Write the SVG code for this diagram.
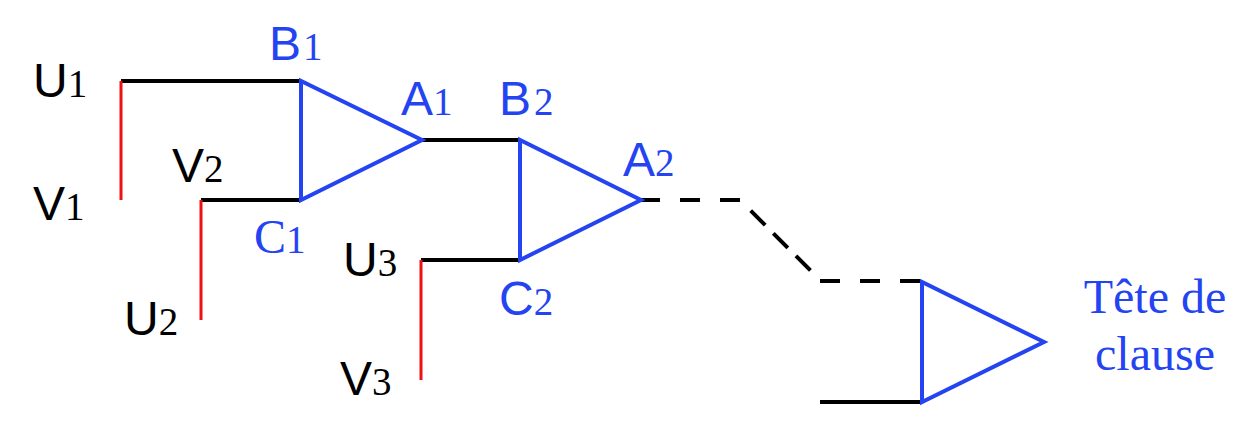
<svg xmlns="http://www.w3.org/2000/svg" width="1240" height="440" viewBox="0 0 1240 440">
<style>
.tri{fill:none;stroke:#2444f2;stroke-width:4;stroke-linejoin:miter}
.blk{stroke:#000;stroke-width:4;fill:none}
.red{stroke:#ee1111;stroke-width:3;fill:none}
.dash{stroke:#000;stroke-width:4;fill:none;stroke-dasharray:20 20}
.l{font-family:"Liberation Sans",Arial,sans-serif;font-size:48px}
.d{font-family:"Liberation Serif","Times New Roman",serif;font-size:39px}
.s{font-family:"Liberation Serif","Times New Roman",serif;font-size:48px}
.k{fill:#000}
.b{fill:#2444f2}
</style>
<rect width="1240" height="440" fill="#fff"/>
<g id="connectors">
<line class="blk" x1="121" y1="81" x2="301" y2="81"/>
<line class="red" x1="121" y1="81" x2="121" y2="200"/>
<line class="blk" x1="201" y1="200" x2="301" y2="200"/>
<line class="red" x1="201" y1="200" x2="201" y2="320"/>
<line class="blk" x1="422" y1="140" x2="520" y2="140"/>
<line class="blk" x1="421" y1="260" x2="520" y2="260"/>
<line class="red" x1="421" y1="260" x2="421" y2="380"/>
<line class="dash" x1="640" y1="200" x2="740" y2="200"/>
<line class="blk" x1="750.7" y1="210.7" x2="811" y2="271" stroke-dasharray="20.5 11.5"/>
<line class="dash" x1="820" y1="281" x2="920" y2="281"/>
<line class="blk" x1="820" y1="402" x2="922" y2="402"/>
</g>
<g id="node1">
<polygon class="tri" points="301,81 301,200 422,140"/>
<text class="l b" x="269" y="60">B<tspan class="d" dx="2">1</tspan></text>
<text class="l b" x="401" y="115">A<tspan class="d">1</tspan></text>
<text class="s b" x="254" y="253">C<tspan class="d">1</tspan></text>
</g>
<g id="node2">
<polygon class="tri" points="520,140 520,260 641,200"/>
<text class="l b" x="499" y="115">B<tspan class="d" dx="3">2</tspan></text>
<text class="l b" x="623" y="176">A<tspan class="d">2</tspan></text>
<text class="l b" x="499" y="315">C<tspan class="d">2</tspan></text>
</g>
<g id="node3">
<polygon class="tri" points="922,282 922,402 1044,342"/>
<text class="s b" x="1155" y="313" text-anchor="middle">Tête de</text>
<text class="s b" x="1155" y="370" text-anchor="middle">clause</text>
</g>
<g id="labels">
<text class="l k" x="33" y="97">U<tspan class="d">1</tspan></text>
<text class="l k" x="33" y="220">V<tspan class="d">1</tspan></text>
<text class="l k" x="172" y="182">V<tspan class="d">2</tspan></text>
<text class="l k" x="124" y="335">U<tspan class="d">2</tspan></text>
<text class="l k" x="343" y="276">U<tspan class="d">3</tspan></text>
<text class="l k" x="340" y="395">V<tspan class="d">3</tspan></text>
</g>
</svg>
